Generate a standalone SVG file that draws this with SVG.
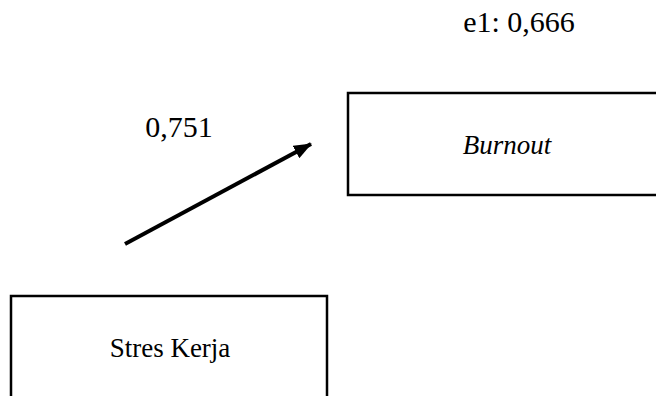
<svg xmlns="http://www.w3.org/2000/svg" width="656" height="396" viewBox="0 0 656 396">
<defs>
<style>
.box{fill:#fff;stroke:#000;stroke-width:2.5}
.t{font-family:"Liberation Serif","Times New Roman",serif;fill:#000}
</style>
<marker id="ah" viewBox="0 0 18 14" refX="17" refY="7" markerWidth="18" markerHeight="14" markerUnits="userSpaceOnUse" orient="auto">
<path d="M0,0 L18,7 L0,14 Z" fill="#000"/>
</marker>
</defs>
<rect width="656" height="396" fill="#fff"/>
<text class="t" x="519" y="32" font-size="30" text-anchor="middle">e1: 0,666</text>
<text class="t" x="179" y="137" font-size="30" text-anchor="middle">0,751</text>
<g id="burnout">
<rect class="box" x="348" y="93" width="340" height="102"/>
<text class="t" x="507" y="154" font-size="27" font-style="italic" text-anchor="middle">Burnout</text>
</g>
<g id="stres-kerja">
<rect class="box" x="11" y="296" width="316" height="130"/>
<text class="t" x="170" y="357" font-size="27" text-anchor="middle">Stres Kerja</text>
</g>
<g id="connectors">
<line x1="125" y1="244" x2="311" y2="144" stroke="#000" stroke-width="4" marker-end="url(#ah)"/>
</g>
</svg>
